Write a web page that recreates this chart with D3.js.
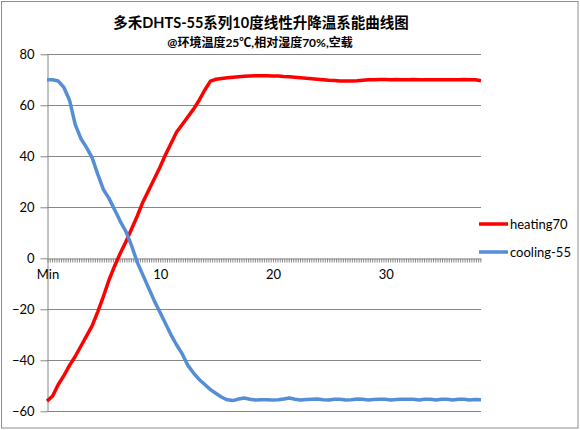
<html>
    <head>
        <meta charset="utf-8">
        <title>DHTS-55</title>
        <style>
            body { margin: 0; background: #fff; }
            .chart text {
                font-family: Lato, "Noto Sans CJK SC", sans-serif;
                fill: #000;
            }
            .chart .axis path, .chart .axis line { stroke: #868686; }
            .chart .grid line { stroke: #868686; stroke-width: 1; }
        </style>
    </head>
    <body>
        <svg class="chart" width="580" height="430"></svg>
        <script src="https://d3js.org/d3.v7.min.js"></script>
        <script>
            // sample times (minutes)
            var minutes = [0, 0.5, 1, 1.5, 2, 2.5, 3, 3.5, 4, 4.5, 5, 5.5, 6, 6.5, 7, 7.5, 8, 8.5, 9, 9.5,
                10, 10.5, 11, 11.5, 12, 12.5, 13, 13.5, 14, 14.5, 15, 15.5, 16, 16.5, 17, 17.5, 18, 18.5, 19, 19.5,
                20, 20.5, 21, 21.5, 22, 22.5, 23, 23.5, 24, 24.5, 25, 25.5, 26, 26.5, 27, 27.5, 28, 28.5, 29, 29.5,
                30, 30.5, 31, 31.5, 32, 32.5, 33, 33.5, 34, 34.5, 35, 35.5, 36, 36.5, 37, 37.5, 38, 38.5];

            var heating70 = [-56, -54, -49.5, -46, -42, -38.5, -34.5, -30.5, -26.5, -21,
                -15, -8.5, -3, 2, 6.5, 11.5, 16.5, 22, 26.5, 31,
                35.5, 40.5, 45, 49.5, 52.5, 55.5, 58.5, 62, 66, 69.5,
                70.2, 70.5, 70.8, 71, 71.2, 71.4, 71.5, 71.6, 71.6, 71.6,
                71.5, 71.5, 71.3, 71.2, 71, 70.8, 70.6, 70.4, 70.2, 70,
                69.8, 69.7, 69.5, 69.5, 69.5, 69.6, 69.8, 70, 70, 70.1,
                70.1, 70, 70.1, 70, 70, 70.1, 70, 70, 70, 70,
                70, 70, 70, 70, 70.1, 70, 70, 69.6];

            var cooling55 = [70, 70, 69.5, 67, 62, 52.5, 47, 43.5, 39.5, 33,
                27, 23.5, 19, 14.5, 10.5, 5, -1.5, -6.5, -11.5, -16.5,
                -21, -25.5, -30, -34, -37.5, -42, -45, -47.5, -49.5, -51.5,
                -53, -54.5, -55.5, -55.8, -55.2, -54.8, -55.3, -55.6, -55.5, -55.5,
                -55.6, -55.5, -55.2, -54.8, -55.3, -55.6, -55.4, -55.3, -55.2, -55.5,
                -55.6, -55.3, -55.3, -55.6, -55.5, -55.2, -55.3, -55.6, -55.4, -55.3,
                -55.3, -55.6, -55.4, -55.3, -55.3, -55.3, -55.6, -55.3, -55.3, -55.6,
                -55.3, -55.3, -55.6, -55.3, -55.3, -55.6, -55.4, -55.5];

            var seriesNames = ["heating70", "cooling-55"];
            var yTicks = [-60, -40, -20, 0, 20, 40, 60, 80];
            var xLabelValues = [0, 10, 20, 30];
            var xLabels = ["Min", "10", "20", "30"];

            var colors = ["#ff0000", "#558ed5"];
            var chart = d3.select('.chart');

            var x = d3.scaleLinear().domain([0, 38.5]).range([47, 481]);
            var y = d3.scaleLinear().domain([-60, 80]).range([411.3, 54.3]);

            // chart border
            chart.append('rect')
                .attr('x', 1.5).attr('y', 1.5)
                .attr('width', 576.5).attr('height', 426.5)
                .attr('fill', 'none').attr('stroke', '#8c8c8c');

            // gridlines
            chart.append('g').attr('class', 'grid')
                .selectAll('line')
                .data(yTicks.filter(function(d) { return d != 0; }))
                .enter().append('line')
                .attr('x1', 47).attr('x2', 481)
                .attr('y1', function(d) { return Math.round(y(d)) + 0.5; })
                .attr('y2', function(d) { return Math.round(y(d)) + 0.5; });

            // y axis
            var yAxis = chart.append('g').attr('class', 'axis')
                .attr('transform', 'translate(47.5,0)')
                .call(d3.axisLeft(y).tickValues(yTicks).tickSize(7).tickPadding(6).tickSizeOuter(0));
            yAxis.selectAll('text').style('font-size', '13px').style('font-family', 'Lato, sans-serif');

            // x axis at zero, one tick per sample
            var minorTicks = d3.range(0, 38.51, 0.2);
            var xAxis = chart.append('g').attr('class', 'axis')
                .attr('transform', 'translate(0,' + (Math.round(y(0)) + 0.5) + ')')
                .call(d3.axisBottom(x).tickValues(minorTicks).tickSize(4).tickSizeOuter(0).tickFormat(''));
            xAxis.selectAll('.tick line').attr('transform', 'translate(0.5,0)');

            chart.append('g').selectAll('text')
                .data(xLabelValues)
                .enter().append('text')
                .attr('x', function(d) { return x(d) + 1; })
                .attr('y', y(0) + 21)
                .attr('text-anchor', 'middle')
                .style('font-size', '13px')
                .text(function(d, i) { return xLabels[i]; });

            // lines
            var line = d3.line()
                .x(function(d, i) { return x(minutes[i]); })
                .y(function(d) { return y(d); });

            chart.append('path')
                .datum(heating70)
                .attr('d', line)
                .attr('fill', 'none')
                .attr('stroke', colors[0])
                .attr('stroke-width', 3.5)
                .attr('stroke-linejoin', 'round');

            chart.append('path')
                .datum(cooling55)
                .attr('d', line)
                .attr('fill', 'none')
                .attr('stroke', colors[1])
                .attr('stroke-width', 3.5)
                .attr('stroke-linejoin', 'round');

            // legend
            var legend = chart.append('g').selectAll('g')
                .data(seriesNames)
                .enter().append('g')
                .attr('transform', function(d, i) { return 'translate(479,' + (224 + i * 28) + ')'; });
            legend.append('line')
                .attr('x1', 0).attr('x2', 29)
                .attr('stroke', function(d, i) { return colors[i]; })
                .attr('stroke-width', 3.5);
            legend.append('text')
                .attr('x', 31).attr('y', 4.5)
                .style('font-size', '13px')
                .text(function(d) { return d; });

            // titles
            chart.append('text')
                .attr('x', 261).attr('y', 28)
                .attr('text-anchor', 'middle')
                .style('font-size', '14.5px').style('font-weight', 'bold')
                .text('多禾DHTS-55系列10度线性升降温系能曲线图');
            chart.append('text')
                .attr('x', 260).attr('y', 47)
                .attr('text-anchor', 'middle')
                .style('font-size', '12px').style('font-weight', 'bold')
                .text('@环境温度25℃,相对湿度70%,空载');
        </script>
    </body>
</html>
